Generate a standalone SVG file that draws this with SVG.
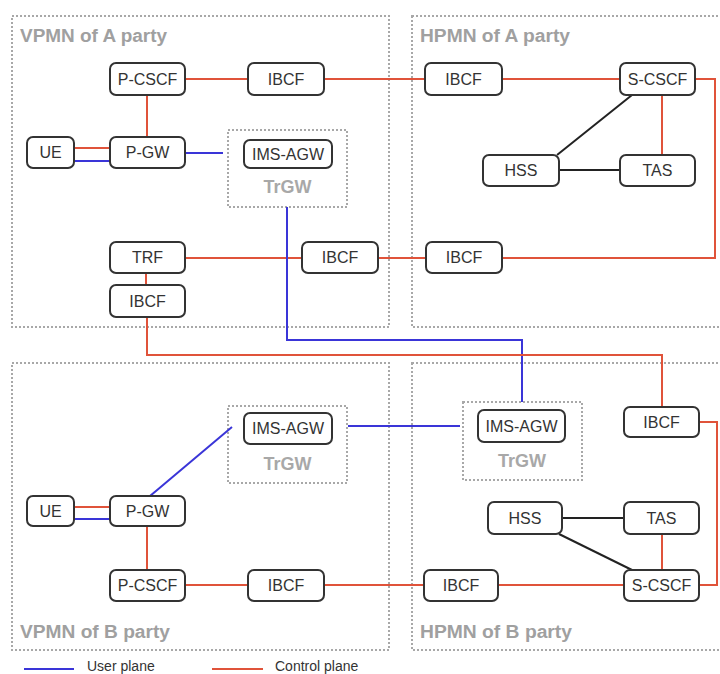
<svg xmlns="http://www.w3.org/2000/svg" width="720" height="674" viewBox="0 0 720 674">
<style>
.region{fill:none;stroke:#a8a8a8;stroke-width:2;stroke-dasharray:2 2}
.rlabel{font-family:"Liberation Sans",Arial,sans-serif;font-size:18px;font-weight:bold;fill:#a0a0a0}
.box{fill:#fff;stroke:#333;stroke-width:2}
.nt{font-family:"Liberation Sans",Arial,sans-serif;font-size:16px;fill:#333;text-anchor:middle}
.tr{fill:none;stroke:#a8a8a8;stroke-width:2;stroke-dasharray:2 2}
.trl{font-family:"Liberation Sans",Arial,sans-serif;font-size:18px;font-weight:bold;fill:#a8a8a8;text-anchor:middle}
.c{fill:none;stroke:#e0533a;stroke-width:2}
.u{fill:none;stroke:#3a35d8;stroke-width:2}
.k{fill:none;stroke:#222;stroke-width:2}
.lg{font-family:"Liberation Sans",Arial,sans-serif;font-size:14px;fill:#333}
</style>
<rect width="720" height="674" fill="#fff"/>
<g id="regions">
<rect class="region" x="12" y="16" width="377" height="311"/>
<text class="rlabel" x="20" y="42" textLength="147" lengthAdjust="spacingAndGlyphs">VPMN of A party</text>
<rect class="region" x="412" y="16" width="320" height="311"/>
<text class="rlabel" x="420" y="42" textLength="150" lengthAdjust="spacingAndGlyphs">HPMN of A party</text>
<rect class="region" x="12" y="363" width="377" height="287"/>
<text class="rlabel" x="20" y="638" textLength="150" lengthAdjust="spacingAndGlyphs">VPMN of B party</text>
<rect class="region" x="412" y="363" width="320" height="287"/>
<text class="rlabel" x="420" y="638" textLength="152" lengthAdjust="spacingAndGlyphs">HPMN of B party</text>
</g>
<g id="trgw-a-vb"><rect class="tr" x="228" y="130" width="119" height="77"/><text class="trl" x="287.5" y="193">TrGW</text></g>
<g id="trgw-b-vb"><rect class="tr" x="228" y="406" width="119" height="77"/><text class="trl" x="287.5" y="470">TrGW</text></g>
<g id="trgw-b-hb"><rect class="tr" x="463" y="402" width="119" height="78"/><text class="trl" x="522" y="467">TrGW</text></g>
<g id="connectors">
<line class="c" x1="185" y1="79" x2="248" y2="79"/>
<line class="c" x1="324" y1="79" x2="425" y2="79"/>
<line class="c" x1="502" y1="79" x2="620" y2="79"/>
<line class="c" x1="147" y1="95" x2="147" y2="137"/>
<line class="c" x1="74" y1="148" x2="110" y2="148"/>
<line class="u" x1="74" y1="161" x2="110" y2="161"/>
<line class="u" x1="185" y1="153" x2="223" y2="153"/>
<line class="c" x1="662" y1="95" x2="662" y2="155"/>
<line class="k" x1="632" y1="95" x2="557" y2="155"/>
<line class="k" x1="559" y1="170" x2="620" y2="170"/>
<polyline class="c" points="695,79 715,79 715,258 502,258"/>
<line class="c" x1="185" y1="258" x2="302" y2="258"/>
<line class="c" x1="378" y1="258" x2="426" y2="258"/>
<line class="c" x1="146" y1="273" x2="146" y2="285"/>
<polyline class="u" points="287,207 287,340 522,340 522,402"/>
<polyline class="c" points="147,317 147,355 662,355 662,407"/>
<line class="u" x1="348" y1="426" x2="460" y2="426"/>
<line class="u" x1="150" y1="496" x2="232" y2="427"/>
<line class="c" x1="74" y1="507" x2="110" y2="507"/>
<line class="u" x1="74" y1="519" x2="110" y2="519"/>
<line class="c" x1="147" y1="526" x2="147" y2="570"/>
<line class="c" x1="185" y1="585" x2="248" y2="585"/>
<line class="c" x1="324" y1="585" x2="424" y2="585"/>
<line class="c" x1="498" y1="585" x2="624" y2="585"/>
<polyline class="c" points="699,422 717,422 717,585 699,585"/>
<line class="k" x1="562" y1="518" x2="624" y2="518"/>
<line class="k" x1="559" y1="534" x2="632" y2="570"/>
<line class="c" x1="662" y1="534" x2="662" y2="570"/>
</g>
<g id="pcscf-a"><rect class="box" x="110" y="63" width="75" height="32" rx="6"/><text class="nt" x="147.5" y="85">P-CSCF</text></g>
<g id="ibcf-a-v1"><rect class="box" x="248" y="63" width="76" height="32" rx="6"/><text class="nt" x="286" y="85">IBCF</text></g>
<g id="ibcf-a-h1"><rect class="box" x="425" y="63" width="77" height="32" rx="6"/><text class="nt" x="463.5" y="85">IBCF</text></g>
<g id="scscf-a"><rect class="box" x="620" y="63" width="75" height="32" rx="6"/><text class="nt" x="657.5" y="85">S-CSCF</text></g>
<g id="ue-a"><rect class="box" x="27" y="137" width="47" height="31" rx="6"/><text class="nt" x="50.5" y="158">UE</text></g>
<g id="pgw-a"><rect class="box" x="110" y="137" width="75" height="31" rx="6"/><text class="nt" x="147.5" y="158">P-GW</text></g>
<g id="imsagw-a"><rect class="box" x="244" y="140" width="88" height="28" rx="6"/><text class="nt" x="288" y="160">IMS-AGW</text></g>
<g id="hss-a"><rect class="box" x="483" y="155" width="76" height="31" rx="6"/><text class="nt" x="521" y="176">HSS</text></g>
<g id="tas-a"><rect class="box" x="620" y="155" width="75" height="31" rx="6"/><text class="nt" x="657.5" y="176">TAS</text></g>
<g id="trf-a"><rect class="box" x="110" y="242" width="75" height="31" rx="6"/><text class="nt" x="147.5" y="263">TRF</text></g>
<g id="ibcf-a-v2"><rect class="box" x="302" y="242" width="76" height="31" rx="6"/><text class="nt" x="340" y="263">IBCF</text></g>
<g id="ibcf-a-h2"><rect class="box" x="426" y="242" width="76" height="31" rx="6"/><text class="nt" x="464" y="263">IBCF</text></g>
<g id="ibcf-a-v3"><rect class="box" x="110" y="285" width="75" height="32" rx="6"/><text class="nt" x="147.5" y="307">IBCF</text></g>
<g id="imsagw-b-v"><rect class="box" x="244" y="413" width="88" height="31" rx="6"/><text class="nt" x="288" y="434">IMS-AGW</text></g>
<g id="imsagw-b-h"><rect class="box" x="478" y="410" width="87" height="32" rx="6"/><text class="nt" x="521.5" y="432">IMS-AGW</text></g>
<g id="ibcf-b-h1"><rect class="box" x="624" y="407" width="75" height="30" rx="6"/><text class="nt" x="661.5" y="428">IBCF</text></g>
<g id="ue-b"><rect class="box" x="27" y="496" width="47" height="30" rx="6"/><text class="nt" x="50.5" y="517">UE</text></g>
<g id="pgw-b"><rect class="box" x="110" y="496" width="75" height="30" rx="6"/><text class="nt" x="147.5" y="517">P-GW</text></g>
<g id="hss-b"><rect class="box" x="488" y="502" width="74" height="32" rx="6"/><text class="nt" x="525" y="524">HSS</text></g>
<g id="tas-b"><rect class="box" x="624" y="502" width="75" height="32" rx="6"/><text class="nt" x="661.5" y="524">TAS</text></g>
<g id="pcscf-b"><rect class="box" x="110" y="570" width="75" height="31" rx="6"/><text class="nt" x="147.5" y="591">P-CSCF</text></g>
<g id="ibcf-b-v"><rect class="box" x="248" y="570" width="76" height="31" rx="6"/><text class="nt" x="286" y="591">IBCF</text></g>
<g id="ibcf-b-h2"><rect class="box" x="424" y="570" width="74" height="31" rx="6"/><text class="nt" x="461" y="591">IBCF</text></g>
<g id="scscf-b"><rect class="box" x="624" y="570" width="75" height="31" rx="6"/><text class="nt" x="661.5" y="591">S-CSCF</text></g>
<g id="legend">
<line class="u" x1="24" y1="669" x2="74" y2="669"/>
<text class="lg" x="87" y="671">User plane</text>
<line class="c" x1="212" y1="669" x2="263" y2="669"/>
<text class="lg" x="275" y="671">Control plane</text>
</g>
</svg>
